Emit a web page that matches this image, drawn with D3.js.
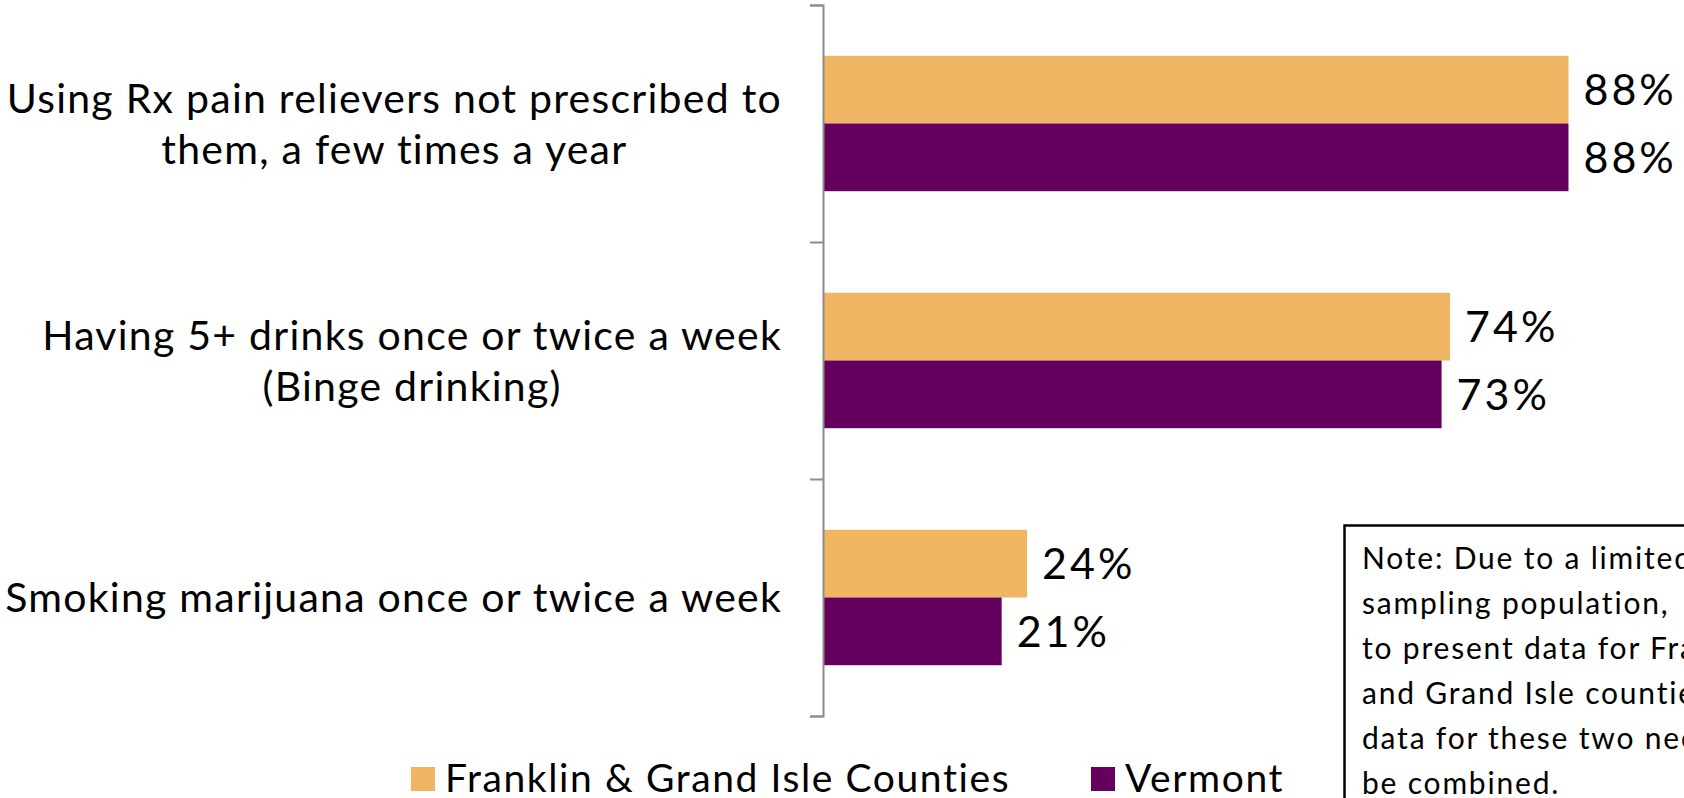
<!DOCTYPE html>
<html>
<head>
<meta charset="utf-8">
<script src="https://cdn.jsdelivr.net/npm/d3@7"></script>
<style>
  html, body { margin: 0; padding: 0; background: #fff; overflow: hidden; }
  svg { display: block; }
  text { font-family: "Lato", "Open Sans", sans-serif; fill: #000; }
</style>
</head>
<body>
<svg id="chart" width="1684" height="798"></svg>
<script>
// Behaviours, each label split into the lines it is shown on
const categories = [
  "Using Rx pain relievers not prescribed to|them, a few times a year",
  "Having 5+ drinks once or twice a week|(Binge drinking)",
  "Smoking marijuana once or twice a week"
];
const seriesNames = ["Franklin & Grand Isle Counties", "Vermont"];
const franklinValues = [88, 74, 24];
const vermontValues = [88, 73, 21];
const seriesColors = ["#EFB563", "#65005F"];
const noteLines = [
  "Note: Due to a limited",
  "sampling population,",
  "to present data for Franklin",
  "and Grand Isle counties",
  "data for these two need to",
  "be combined."
];

const svg = d3.select("#chart");
const FONT = 41;

const values = [franklinValues, vermontValues];

// Horizontal value scale (percent)
const x = d3.scaleLinear().domain([0, 100]).range([824, 1670]);

// Category bands along the vertical axis
const y = d3.scaleBand().domain(categories).range([5, 716]).paddingInner(0).paddingOuter(0);

// Series bands within one category
const ySeries = d3.scaleBand()
  .domain(seriesNames)
  .range([0, y.bandwidth()])
  .paddingInner(0)
  .paddingOuter(0.75);

// Bars
const rows = categories.map((c, i) => ({ cat: c, i }));
const groups = svg.append("g").selectAll("g")
  .data(rows)
  .join("g")
  .attr("transform", d => `translate(0,${y(d.cat)})`);

groups.selectAll("rect")
  .data(d => seriesNames.map((s, k) => ({ s, k, v: values[k][d.i] })))
  .join("rect")
  .attr("x", x(0))
  .attr("y", d => ySeries(d.s))
  .attr("width", d => x(d.v) - x(0))
  .attr("height", ySeries.bandwidth())
  .attr("fill", d => seriesColors[d.k]);

// Value labels
groups.selectAll("text.val")
  .data(d => seriesNames.map((s, k) => ({ s, k, v: values[k][d.i] })))
  .join("text")
  .attr("class", "val")
  .attr("x", d => x(d.v) + 15)
  .attr("y", d => ySeries(d.s) + ySeries.bandwidth() / 2)
  .attr("dy", "0.36em")
  .style("font-size", "43px")
  .style("letter-spacing", "3px")
  .text(d => d.v + "%");

// Category axis with ticks between categories
const boundaries = d3.scalePoint().domain(d3.range(categories.length + 1)).range([5, 716]);
const axis = svg.append("g")
  .attr("transform", `translate(${x(0) - 1},0)`)
  .call(d3.axisLeft(boundaries).tickSize(13).tickFormat(""));
axis.selectAll("path, line").attr("stroke", "#8C8C8C").attr("stroke-width", 2);

// Category labels: lines centred on each other, block right-aligned against the axis
const labelRight = 782;
const lineGap = 51;
rows.forEach(d => {
  const lines = d.cat.split("|");
  const g = svg.append("g");
  const texts = lines.map((ln, j) => g.append("text")
    .attr("text-anchor", "middle")
    .attr("y", y(d.cat) + y.bandwidth() / 2 + (j - (lines.length - 1) / 2) * lineGap)
    .attr("dy", "0.36em")
    .style("font-size", FONT + "px")
    .style("letter-spacing", "1.25px")
    .text(ln));
  const maxW = d3.max(texts, t => t.node().getComputedTextLength());
  texts.forEach(t => t.attr("x", labelRight - maxW / 2));
});

// Legend
const legend = svg.append("g");
const legendX = [411, 1091];
seriesNames.forEach((s, k) => {
  legend.append("rect")
    .attr("x", legendX[k]).attr("y", 767)
    .attr("width", 24).attr("height", 24)
    .attr("fill", seriesColors[k]);
  legend.append("text")
    .attr("x", legendX[k] + 34).attr("y", 792)
    .style("font-size", "39px")
    .style("letter-spacing", "1.6px")
    .text(s);
});

// Note box
const note = svg.append("g");
note.append("rect")
  .attr("x", 1344.5).attr("y", 525.5)
  .attr("width", 440).attr("height", 320)
  .attr("fill", "#fff")
  .attr("stroke", "#000")
  .attr("stroke-width", 2.5);
note.selectAll("text")
  .data(noteLines)
  .join("text")
  .attr("x", 1362)
  .attr("y", (d, i) => 569 + i * 45)
  .style("font-size", "30px")
  .style("letter-spacing", "1.8px")
  .text(d => d);
</script>
</body>
</html>
